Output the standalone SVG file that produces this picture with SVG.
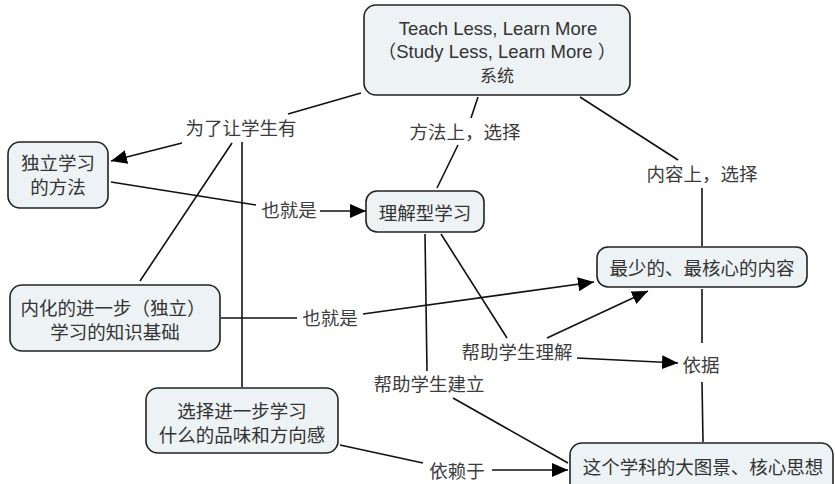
<svg xmlns="http://www.w3.org/2000/svg" width="835" height="484" viewBox="0 0 835 484">
<style>
.box{fill:#edf2f4;stroke:#222;stroke-width:1.6}
.t{font-family:"Noto Sans CJK SC","Liberation Sans",sans-serif;font-size:18.5px;fill:#333;text-anchor:middle}
.lt{font-family:"Liberation Sans","Noto Sans CJK SC",sans-serif;font-size:18.5px;fill:#333;text-anchor:middle}
.lbl{font-family:"Noto Sans CJK SC","Liberation Sans",sans-serif;font-size:18.5px;fill:#3c3c3c;text-anchor:middle}
.c line{stroke:#111;stroke-width:1.6;fill:none}
.c .a{marker-end:url(#ah)}
</style>
<defs>
<marker id="ah" markerUnits="userSpaceOnUse" markerWidth="17" markerHeight="15" refX="16" refY="7" orient="auto">
<path d="M0,0 L16,7 L0,14 z" fill="#000"/>
</marker>
</defs>
<rect width="835" height="484" fill="#fff"/>
<g class="c" id="connectors">
<line x1="361" y1="93" x2="288" y2="114"/>
<line class="a" x1="182" y1="143" x2="111" y2="161"/>
<line x1="232" y1="143" x2="140" y2="281"/>
<line x1="242" y1="142" x2="242" y2="387"/>
<line x1="111" y1="182" x2="256" y2="205"/>
<line class="a" x1="320" y1="211" x2="366" y2="211"/>
<line x1="478" y1="97" x2="471" y2="118"/>
<line x1="458" y1="145" x2="437" y2="188"/>
<line x1="580" y1="97" x2="678" y2="160"/>
<line x1="702" y1="188" x2="702" y2="246"/>
<line x1="702" y1="289" x2="702" y2="343"/>
<line x1="702" y1="382" x2="703" y2="442"/>
<line x1="221" y1="318" x2="297" y2="318"/>
<line class="a" x1="363" y1="314" x2="594" y2="282"/>
<line x1="441" y1="234" x2="507" y2="338"/>
<line x1="425" y1="234" x2="427" y2="371"/>
<line class="a" x1="547" y1="338" x2="648" y2="291"/>
<line class="a" x1="577" y1="358" x2="678" y2="363"/>
<line x1="453" y1="398" x2="568" y2="463"/>
<line x1="340" y1="445" x2="423" y2="463"/>
<line class="a" x1="492" y1="470" x2="568" y2="470"/>
</g>
<g id="labels">
<text class="lbl" x="241" y="135">为了让学生有</text>
<text class="lbl" x="465" y="139">方法上，选择</text>
<text class="lbl" x="702" y="181">内容上，选择</text>
<text class="lbl" x="289" y="217">也就是</text>
<text class="lbl" x="330" y="325">也就是</text>
<text class="lbl" x="517" y="359">帮助学生理解</text>
<text class="lbl" x="701" y="372">依据</text>
<text class="lbl" x="429" y="391">帮助学生建立</text>
<text class="lbl" x="457" y="478">依赖于</text>
</g>
<g id="n-top">
<rect class="box" x="364" y="5" width="266" height="90" rx="12"/>
<text class="lt" x="498" y="35">Teach Less, Learn More</text>
<text class="lt" x="497" y="58">（Study Less, Learn More ）</text>
<text class="t" x="497" y="82" style="font-size:17px">系统</text>
</g>
<g id="n-method">
<rect class="box" x="8" y="142" width="100" height="66" rx="12"/>
<text class="t" x="58" y="170">独立学习</text>
<text class="t" x="58" y="194">的方法</text>
</g>
<g id="n-understand">
<rect class="box" x="366" y="191" width="118" height="41" rx="11"/>
<text class="t" x="425" y="220">理解型学习</text>
</g>
<g id="n-content">
<rect class="box" x="597" y="247" width="210" height="40" rx="11"/>
<text class="t" x="702" y="275">最少的、最核心的内容</text>
</g>
<g id="n-knowledge">
<rect class="box" x="10" y="285" width="210" height="66" rx="12"/>
<text class="t" x="113" y="315">内化的进一步（独立）</text>
<text class="t" x="115" y="339">学习的知识基础</text>
</g>
<g id="n-taste">
<rect class="box" x="146" y="388" width="192" height="65" rx="12"/>
<text class="t" x="242" y="418">选择进一步学习</text>
<text class="t" x="242" y="442">什么的品味和方向感</text>
</g>
<g id="n-bigpicture">
<rect class="box" x="570" y="443" width="263" height="55" rx="12"/>
<text class="t" x="703" y="474">这个学科的大图景、核心思想</text>
</g>
</svg>
